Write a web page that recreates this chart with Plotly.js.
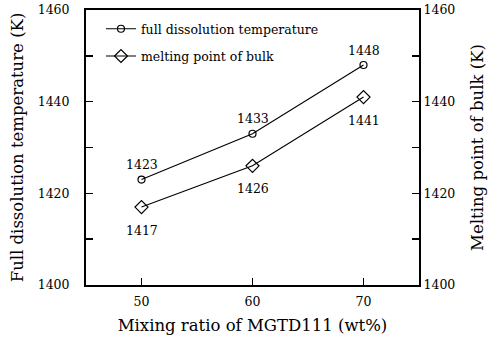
<!DOCTYPE html>
<html>
<head>
<meta charset="utf-8">
<script src="https://cdn.plot.ly/plotly-3.0.1.min.js"></script>
<style>html,body{margin:0;padding:0;background:#fff}#chart{width:493px;height:340px}</style>
</head>
<body>
<div id="chart"></div>
<script>
var mixingRatio = [50, 60, 70];
var fullDissolution = [1423, 1433, 1448];
var meltingBulk = [1417, 1426, 1441];
var yTickVals = [1400, 1410, 1420, 1430, 1440, 1450, 1460];
var yTickText = ['1400', '', '1420', '', '1440', '', '1460'];
var xTickVals = [50, 60, 70];

var FONT = 'DejaVu Serif, Liberation Serif, serif';

var traces = [
  {
    x: mixingRatio, y: fullDissolution, name: 'full dissolution temperature',
    type: 'scatter', mode: 'lines+markers', legendgroup: 'a',
    line: {color: '#000', width: 1.1},
    marker: {symbol: 'circle-open', size: 7, color: '#000', line: {width: 1.2}}
  },
  {
    x: mixingRatio, y: meltingBulk, name: 'melting point of bulk',
    type: 'scatter', mode: 'lines+markers', yaxis: 'y2', legendgroup: 'b',
    line: {color: '#000', width: 1.1},
    marker: {symbol: 'diamond-open', size: 10, color: '#000', line: {width: 1.2}}
  }
];

var annotations = [];
fullDissolution.forEach(function (v, i) {
  annotations.push({x: mixingRatio[i], y: v, xref: 'x', yref: 'y', text: String(v),
    showarrow: false, yshift: 15, font: {family: FONT, size: 12.5, color: '#000'}});
});
meltingBulk.forEach(function (v, i) {
  annotations.push({x: mixingRatio[i], y: v, xref: 'x', yref: 'y', text: String(v),
    showarrow: false, yshift: -23, font: {family: FONT, size: 12.5, color: '#000'}});
});

var layout = {
  width: 493, height: 340,
  margin: {l: 86, r: 74, t: 10, b: 55},
  paper_bgcolor: '#fff', plot_bgcolor: '#fff',
  font: {family: FONT, size: 12.5, color: '#000'},
  showlegend: true,
  legend: {x: 0.045, y: 0.985, xanchor: 'left', yanchor: 'top', bgcolor: 'rgba(0,0,0,0)',
    font: {family: FONT, size: 12.5, color: '#000'}, tracegroupgap: 8},
  xaxis: {
    range: [45, 75], tickvals: xTickVals, ticks: 'inside', ticklen: 7, tickwidth: 1.5,
    tickcolor: '#000', showline: true, linewidth: 2, linecolor: '#000', mirror: true,
    showgrid: false, zeroline: false, ticklabelstandoff: 4,
    title: {text: 'Mixing ratio of MGTD111 (wt%)', font: {family: FONT, size: 16.5}, standoff: 11}
  },
  yaxis: {
    range: [1400, 1460], tickvals: yTickVals, ticktext: yTickText, ticks: 'inside', ticklen: 7,
    tickwidth: 1.5, tickcolor: '#000', showline: true, linewidth: 2, linecolor: '#000',
    showgrid: false, zeroline: false, ticklabelstandoff: 12,
    title: {text: 'Full dissolution temperature (K)', font: {family: FONT, size: 16.5}, standoff: 10}
  },
  yaxis2: {
    range: [1400, 1460], tickvals: yTickVals, ticktext: yTickText, ticks: 'inside', ticklen: 7,
    tickwidth: 1.5, tickcolor: '#000', showline: true, linewidth: 2, linecolor: '#000',
    showgrid: false, zeroline: false, overlaying: 'y', side: 'right',
    title: {text: 'Melting point of bulk (K)', font: {family: FONT, size: 16.5}, standoff: 17}
  },
  annotations: annotations
};

Plotly.newPlot('chart', traces, layout, {displayModeBar: false, staticPlot: true});
</script>
</body>
</html>
